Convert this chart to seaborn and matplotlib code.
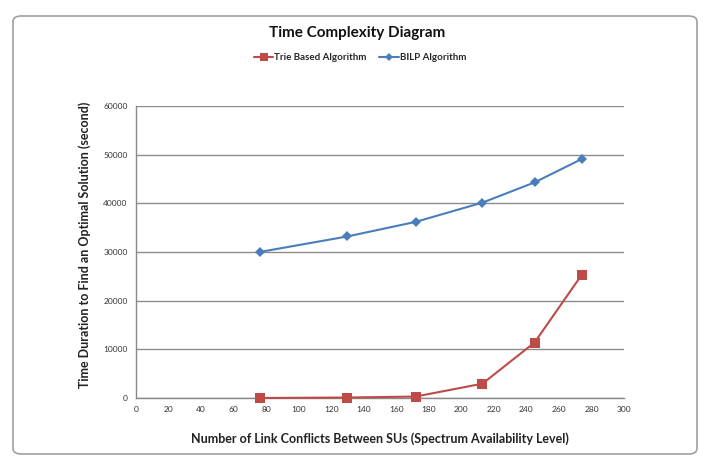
import matplotlib
matplotlib.use("Agg")
import matplotlib.pyplot as plt
import seaborn as sns
import pandas as pd
from matplotlib.patches import FancyBboxPatch

# Data
conflicts = [76, 130, 172, 213, 245, 274]
trie_values = [0, 100, 300, 2950, 11400, 25300]
bilp_values = [30000, 33200, 36200, 40150, 44300, 49100]
series_names = ["Trie Based Algorithm", "BILP Algorithm"]
x_ticks = list(range(0, 301, 20))
y_ticks = list(range(0, 60001, 10000))

df = pd.DataFrame({
    "x": conflicts * 2,
    "y": trie_values + bilp_values,
    "series": [series_names[0]] * len(conflicts) + [series_names[1]] * len(conflicts),
})

sns.set_theme(style="white")
plt.rcParams["font.family"] = ["Lato", "DejaVu Sans"]

fig = plt.figure(figsize=(7.03, 4.62), dpi=100)
fig.patch.set_facecolor("white")

# Excel-like chart frame drawn in a background axes
bg = fig.add_axes([0, 0, 1, 1], zorder=-5)
bg.set_axis_off()
bg.set_xlim(0, 1)
bg.set_ylim(0, 1)
frame = FancyBboxPatch((13 / 703, 8 / 462), 684 / 703, 438 / 462,
                       boxstyle="round,pad=0,rounding_size=0.012",
                       transform=bg.transAxes, facecolor="white",
                       edgecolor="#a0a0a0", linewidth=1.2)
bg.add_patch(frame)

ax = fig.add_axes([136 / 703, 1 - 398 / 462, (624 - 136) / 703, (398 - 106) / 462], zorder=2)
ax.set_facecolor("none")

palette = {series_names[0]: "#BE4B48", series_names[1]: "#4A7EBB"}
markers = {series_names[0]: "s", series_names[1]: "D"}
sns.lineplot(data=df, x="x", y="y", hue="series", style="series",
             palette=palette, markers=markers, dashes=False,
             markersize=7, linewidth=1.5, markeredgewidth=0, ax=ax,
             legend=True, zorder=3)
for line in ax.lines:
    line.set_clip_on(False)
    if line.get_marker() == "D":
        line.set_markersize(4.8)

ax.set_xlim(0, 300)
ax.set_ylim(0, 60000)
ax.set_xticks(x_ticks)
ax.set_yticks(y_ticks)
ax.tick_params(axis="both", labelsize=6, colors="#333333", length=3,
               direction="out", width=0.8, pad=3)
ax.tick_params(axis="both", color="#888888")
ax.yaxis.grid(True, color="#8c8c8c", linewidth=1.0)
ax.xaxis.grid(False)
for s in ["top", "right"]:
    ax.spines[s].set_visible(False)
for s in ["left", "bottom"]:
    ax.spines[s].set_color("#888888")
    ax.spines[s].set_linewidth(1.0)

ax.set_xlabel("Number of Link Conflicts Between SUs (Spectrum Availability Level)",
              fontsize=9, fontweight="bold", color="#222222", labelpad=14)
ax.set_ylabel("Time Duration to Find an Optimal Solution (second)",
              fontsize=9, fontweight="bold", color="#222222")
ax.yaxis.set_label_coords(-45 / 488, 0.524)

fig.text(357 / 703, 1 - 33 / 462, "Time Complexity Diagram", ha="center", va="center",
         fontsize=11, fontweight="bold", color="#111111")

handles, labels = ax.get_legend_handles_labels()
for h in handles:
    if h.get_marker() == "D":
        h.set_markersize(4.5)
    else:
        h.set_markersize(5.5)
ax.legend(handles, labels, loc="center", bbox_to_anchor=(360 / 703, (462 - 58) / 462),
          bbox_transform=fig.transFigure, ncol=2, frameon=False,
          prop={"size": 7, "weight": "bold"}, handlelength=2.0,
          handletextpad=0.1, columnspacing=1.3)

fig.savefig("out.png", dpi=100)
